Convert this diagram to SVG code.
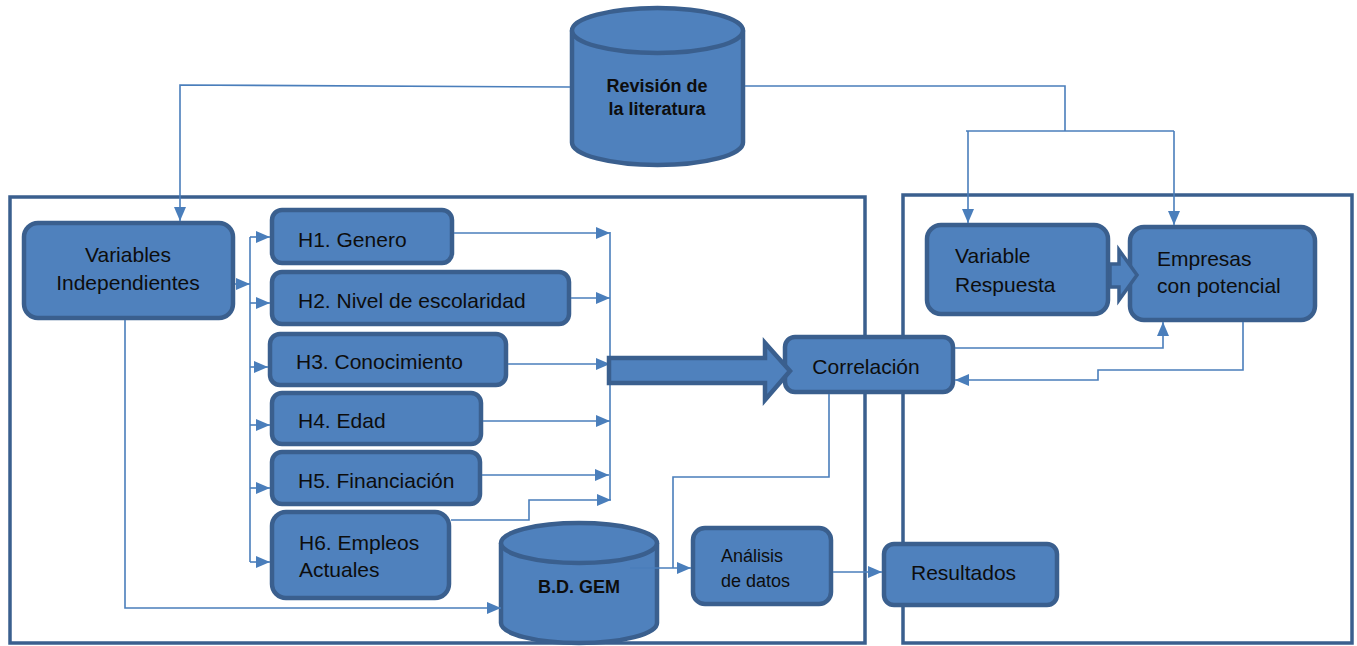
<svg xmlns="http://www.w3.org/2000/svg" width="1357" height="646" viewBox="0 0 1357 646">
<style>
.box{fill:#4F81BD;stroke:#3A5F8E;stroke-width:4.5}
.frame{fill:none;stroke:#3A5F8E;stroke-width:3.5}
.c{fill:none;stroke:#4A7EBB;stroke-width:1.6}
.t{font-family:"Liberation Sans",Arial,sans-serif;font-size:21px;fill:#0d0d0d}
.s{font-size:18px}
.b{font-weight:bold;font-size:18px}
</style>
<defs>
<marker id="ah" viewBox="0 0 14 12" refX="14" refY="6" markerWidth="14" markerHeight="12" markerUnits="userSpaceOnUse" orient="auto">
<path d="M0,0 L14,6 L0,12 Z" fill="#4A7EBB"/>
</marker>
</defs>
<rect width="1357" height="646" fill="#ffffff"/>
<g id="frames">
<rect class="frame" x="10" y="197" width="855" height="446"/>
<rect class="frame" x="903" y="195" width="449" height="448"/>
</g>
<g id="revision">
<path class="box" d="M572,30.5 L572,142.5 A85.5,22.5 0 0 0 743,142.5 L743,30.5"/>
<ellipse class="box" cx="657.5" cy="30.5" rx="85.5" ry="22.5"/>
<text class="t b" x="657" y="92" text-anchor="middle">Revisión de</text>
<text class="t b" x="657" y="115" text-anchor="middle">la literatura</text>
</g>
<g id="variables-independientes">
<rect class="box" x="24" y="223" width="209" height="95" rx="14"/>
<text class="t" x="128" y="262" text-anchor="middle">Variables</text>
<text class="t" x="128" y="290" text-anchor="middle">Independientes</text>
</g>
<g id="h1">
<rect class="box" x="272" y="210" width="180" height="53" rx="10"/>
<text class="t" x="298" y="247">H1. Genero</text>
</g>
<g id="h2">
<rect class="box" x="272" y="272" width="297" height="52" rx="10"/>
<text class="t" x="298" y="308">H2. Nivel de escolaridad</text>
</g>
<g id="h3">
<rect class="box" x="270" y="334" width="236" height="51" rx="10"/>
<text class="t" x="296" y="369">H3. Conocimiento</text>
</g>
<g id="h4">
<rect class="box" x="272" y="393" width="209" height="51" rx="10"/>
<text class="t" x="298" y="428">H4. Edad</text>
</g>
<g id="h5">
<rect class="box" x="272" y="452" width="208" height="52" rx="10"/>
<text class="t" x="298" y="488">H5. Financiación</text>
</g>
<g id="h6">
<rect class="box" x="272" y="512" width="177" height="86" rx="14"/>
<text class="t" x="299" y="550">H6. Empleos</text>
<text class="t" x="299" y="577">Actuales</text>
</g>
<g id="bd-gem">
<path class="box" d="M501,543 L501,623 A78,20 0 0 0 657,623 L657,543"/>
<ellipse class="box" cx="579" cy="543" rx="78" ry="20"/>
<text class="t b" x="579" y="593" text-anchor="middle">B.D. GEM</text>
</g>
<g id="correlacion">
<rect class="box" x="785" y="337" width="168" height="55" rx="10"/>
<text class="t" x="866" y="374" text-anchor="middle">Correlación</text>
</g>
<g id="analisis">
<rect class="box" x="693" y="528" width="138" height="76" rx="12"/>
<text class="t s" x="721" y="562">Análisis</text>
<text class="t s" x="721" y="587">de datos</text>
</g>
<g id="resultados">
<rect class="box" x="884" y="544" width="173" height="61" rx="10"/>
<text class="t" x="911" y="580">Resultados</text>
</g>
<g id="variable-respuesta">
<rect class="box" x="927" y="225" width="181" height="89" rx="14"/>
<text class="t" x="955" y="263">Variable</text>
<text class="t" x="955" y="292">Respuesta</text>
</g>
<g id="empresas">
<rect class="box" x="1130" y="227" width="185" height="93" rx="14"/>
<text class="t" x="1157" y="266">Empresas</text>
<text class="t" x="1157" y="293">con potencial</text>
</g>
<g id="connectors">
<polyline class="c" points="570,87 180,85 180,221" marker-end="url(#ah)"/>
<polyline class="c" points="745,86 1065,86 1065,131"/>
<polyline class="c" points="966,131 1174,131"/>
<polyline class="c" points="968,131 968,223" marker-end="url(#ah)"/>
<polyline class="c" points="1174,131 1174,225" marker-end="url(#ah)"/>
<polyline class="c" points="235,284 250,284" marker-end="url(#ah)"/>
<polyline class="c" points="250,237 250,562"/>
<line class="c" x1="250" y1="237" x2="270" y2="237" marker-end="url(#ah)"/>
<line class="c" x1="250" y1="303" x2="270" y2="303" marker-end="url(#ah)"/>
<line class="c" x1="250" y1="367" x2="268" y2="367" marker-end="url(#ah)"/>
<line class="c" x1="250" y1="425" x2="270" y2="425" marker-end="url(#ah)"/>
<line class="c" x1="250" y1="488" x2="270" y2="488" marker-end="url(#ah)"/>
<line class="c" x1="250" y1="562" x2="270" y2="562" marker-end="url(#ah)"/>
<line class="c" x1="454" y1="233" x2="610" y2="233" marker-end="url(#ah)"/>
<line class="c" x1="571" y1="298" x2="610" y2="298" marker-end="url(#ah)"/>
<line class="c" x1="508" y1="364" x2="610" y2="364" marker-end="url(#ah)"/>
<line class="c" x1="483" y1="421" x2="610" y2="421" marker-end="url(#ah)"/>
<line class="c" x1="482" y1="475" x2="609" y2="475" marker-end="url(#ah)"/>
<polyline class="c" points="451,520 529,520 529,500 611,500" marker-end="url(#ah)"/>
<line class="c" x1="610" y1="232" x2="610" y2="500"/>
<polyline class="c" points="125,320 125,608 501,608" marker-end="url(#ah)"/>
<polyline class="c" points="955,348 1163,348 1163,322" marker-end="url(#ah)"/>
<polyline class="c" points="1243,322 1243,370 1098,370 1098,380 955,380" marker-end="url(#ah)"/>
<polyline class="c" points="829,394 829,477 673,477 673,568"/>
<polyline class="c" points="630,568 691,568" marker-end="url(#ah)"/>
<polyline class="c" points="833,572 882,572" marker-end="url(#ah)"/>
<path class="box" d="M609,358 L765,358 L765,343 L790,371 L765,400 L765,383 L609,383 Z"/>
<path class="box" style="stroke-width:3.5" d="M1110,264 L1119,264 L1119,250 L1137,275 L1119,300 L1119,287 L1110,287 Z"/>
</g>
</svg>
